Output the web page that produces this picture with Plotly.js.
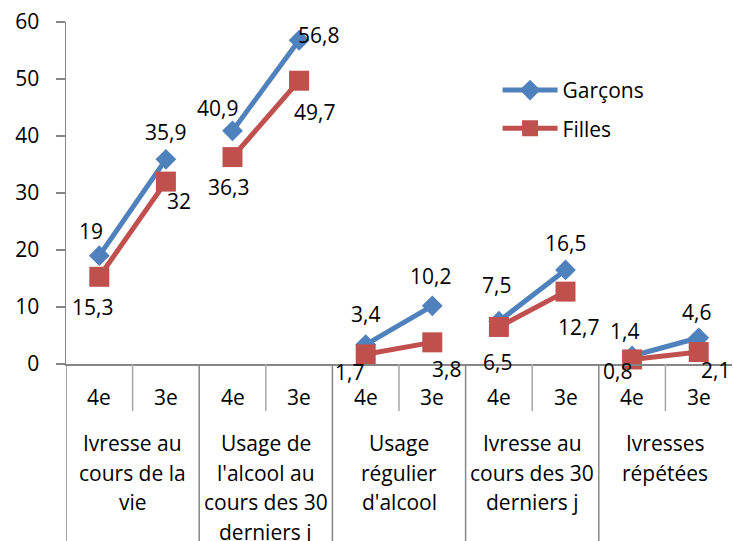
<!DOCTYPE html>
<html>
<head>
<meta charset="utf-8">
<script src="https://cdn.plot.ly/plotly-3.0.1.min.js"></script>
<style>
  html, body { margin: 0; padding: 0; background: #fff; }
  #chart { width: 733px; height: 541px; }
</style>
</head>
<body>
<div id="chart"></div>
<script>
// --- Data ---
const groupLabels = [
  ['Ivresse au', 'cours de la', 'vie'],
  ['Usage de', "l'alcool au", 'cours des 30', 'derniers j'],
  ['Usage', 'régulier', "d'alcool"],
  ['Ivresse au', 'cours des 30', 'derniers j'],
  ['Ivresses', 'répétées']
];
const levelLabels = ['4e', '3e'];
const garcons = [19, 35.9, 40.9, 56.8, 3.4, 10.2, 7.5, 16.5, 1.4, 4.6];
const filles  = [15.3, 32, 36.3, 49.7, 1.7, 3.8, 6.5, 12.7, 0.8, 2.1];
const yTicks = [0, 10, 20, 30, 40, 50, 60];

// --- Label offsets (px, from marker centre; yshift positive = up) ---
const garconsShift = [[-8, 25], [0, 27], [-15, 23], [19, 5], [0, 31], [-2, 30], [-2, 36], [0, 27], [-8, 25], [-2, 26]];
const fillesShift  = [[-7, -30], [13, -19], [-4, -30], [15, -31], [-16, -18], [14, -27], [-1, -35], [13, -35], [-15, -12], [17, -18]];

// --- Style ---
const BLUE = '#4F81BD', RED = '#C0504D', AXIS = '#868686', DIV = '#A6A6A6';
const FONT = 'Open Sans, sans-serif';
const FS = 21;
const MARGIN = { l: 66, r: 1, t: 22, b: 177 };
const PLOT_H = 541 - MARGIN.t - MARGIN.b;

const nLev = levelLabels.length;
const nSlots = groupLabels.length * nLev;

// x positions with gaps between groups so each group is its own segment
function seriesXY(vals) {
  const xs = [], ys = [];
  groupLabels.forEach((g, gi) => {
    if (gi > 0) { xs.push(null); ys.push(null); }
    for (let li = 0; li < nLev; li++) {
      const k = gi * nLev + li;
      xs.push(k + 0.5); ys.push(vals[k]);
    }
  });
  return { x: xs, y: ys };
}

const fmt = v => String(v).replace('.', ',');

const g = seriesXY(garcons), f = seriesXY(filles);
const traces = [
  {
    x: g.x, y: g.y, name: 'Garçons', type: 'scatter', mode: 'lines+markers',
    legendgroup: 'g', connectgaps: false, cliponaxis: false,
    line: { color: BLUE, width: 5 },
    marker: { symbol: 'diamond', size: 16, color: BLUE }
  },
  {
    x: f.x, y: f.y, name: 'Filles', type: 'scatter', mode: 'lines+markers',
    legendgroup: 'f', connectgaps: false, cliponaxis: false,
    line: { color: RED, width: 5 },
    marker: { symbol: 'square', size: 20, color: RED }
  }
];

const annotations = [];
// data labels
garcons.forEach((v, k) => annotations.push({
  x: k + 0.5, y: v, xref: 'x', yref: 'y', text: fmt(v), showarrow: false,
  xshift: garconsShift[k][0], yshift: garconsShift[k][1],
  font: { family: FONT, size: FS, color: '#000' }
}));
filles.forEach((v, k) => annotations.push({
  x: k + 0.5, y: v, xref: 'x', yref: 'y', text: fmt(v), showarrow: false,
  xshift: fillesShift[k][0], yshift: fillesShift[k][1],
  font: { family: FONT, size: FS, color: '#000' }
}));
// level labels (4e / 3e)
for (let k = 0; k < nSlots; k++) {
  annotations.push({
    x: k + 0.5, y: 0, xref: 'x', yref: 'y', text: levelLabels[k % nLev],
    showarrow: false, yshift: -33, font: { family: FONT, size: FS, color: '#000' }
  });
}
// group labels, one annotation per line
groupLabels.forEach((lines, gi) => {
  lines.forEach((t, li) => annotations.push({
    x: gi * nLev + nLev / 2, y: 0, xref: 'x', yref: 'y', text: t,
    showarrow: false, yshift: -79 - li * 29.5,
    font: { family: FONT, size: FS, color: '#000' }
  }));
});

// category dividers
const shapes = [];
for (let b = 0; b < nSlots; b++) {
  const major = b % nLev === 0;
  shapes.push({
    type: 'line', xref: 'x', yref: 'paper', x0: b, x1: b,
    y0: 0, y1: -(major ? MARGIN.b : 47) / PLOT_H,
    line: { color: major ? AXIS : DIV, width: 1.5 }
  });
}

const layout = {
  width: 733, height: 541,
  margin: MARGIN,
  paper_bgcolor: '#fff', plot_bgcolor: '#fff',
  font: { family: FONT, size: FS, color: '#000' },
  showlegend: true,
  legend: {
    x: 0.648, y: 0.86, xanchor: 'left', yanchor: 'top',
    font: { family: FONT, size: FS, color: '#000' },
    itemwidth: 55, tracegroupgap: 8, traceorder: 'grouped',
    bgcolor: 'rgba(0,0,0,0)'
  },
  xaxis: {
    range: [0, nSlots], showgrid: false, zeroline: false,
    showticklabels: false, ticks: '', showline: true,
    linecolor: AXIS, linewidth: 1.5, fixedrange: true
  },
  yaxis: {
    range: [0, 60], tickvals: yTicks, ticktext: yTicks.map(String),
    showgrid: false, zeroline: false, showline: true,
    linecolor: AXIS, linewidth: 1.5,
    ticks: 'outside', ticklen: 9, tickcolor: AXIS, tickwidth: 1.5,
    ticklabelstandoff: 12,
    tickfont: { family: FONT, size: FS, color: '#000' }, fixedrange: true
  },
  annotations: annotations,
  shapes: shapes
};

Plotly.newPlot('chart', traces, layout, { displayModeBar: false, staticPlot: true });
</script>
</body>
</html>
